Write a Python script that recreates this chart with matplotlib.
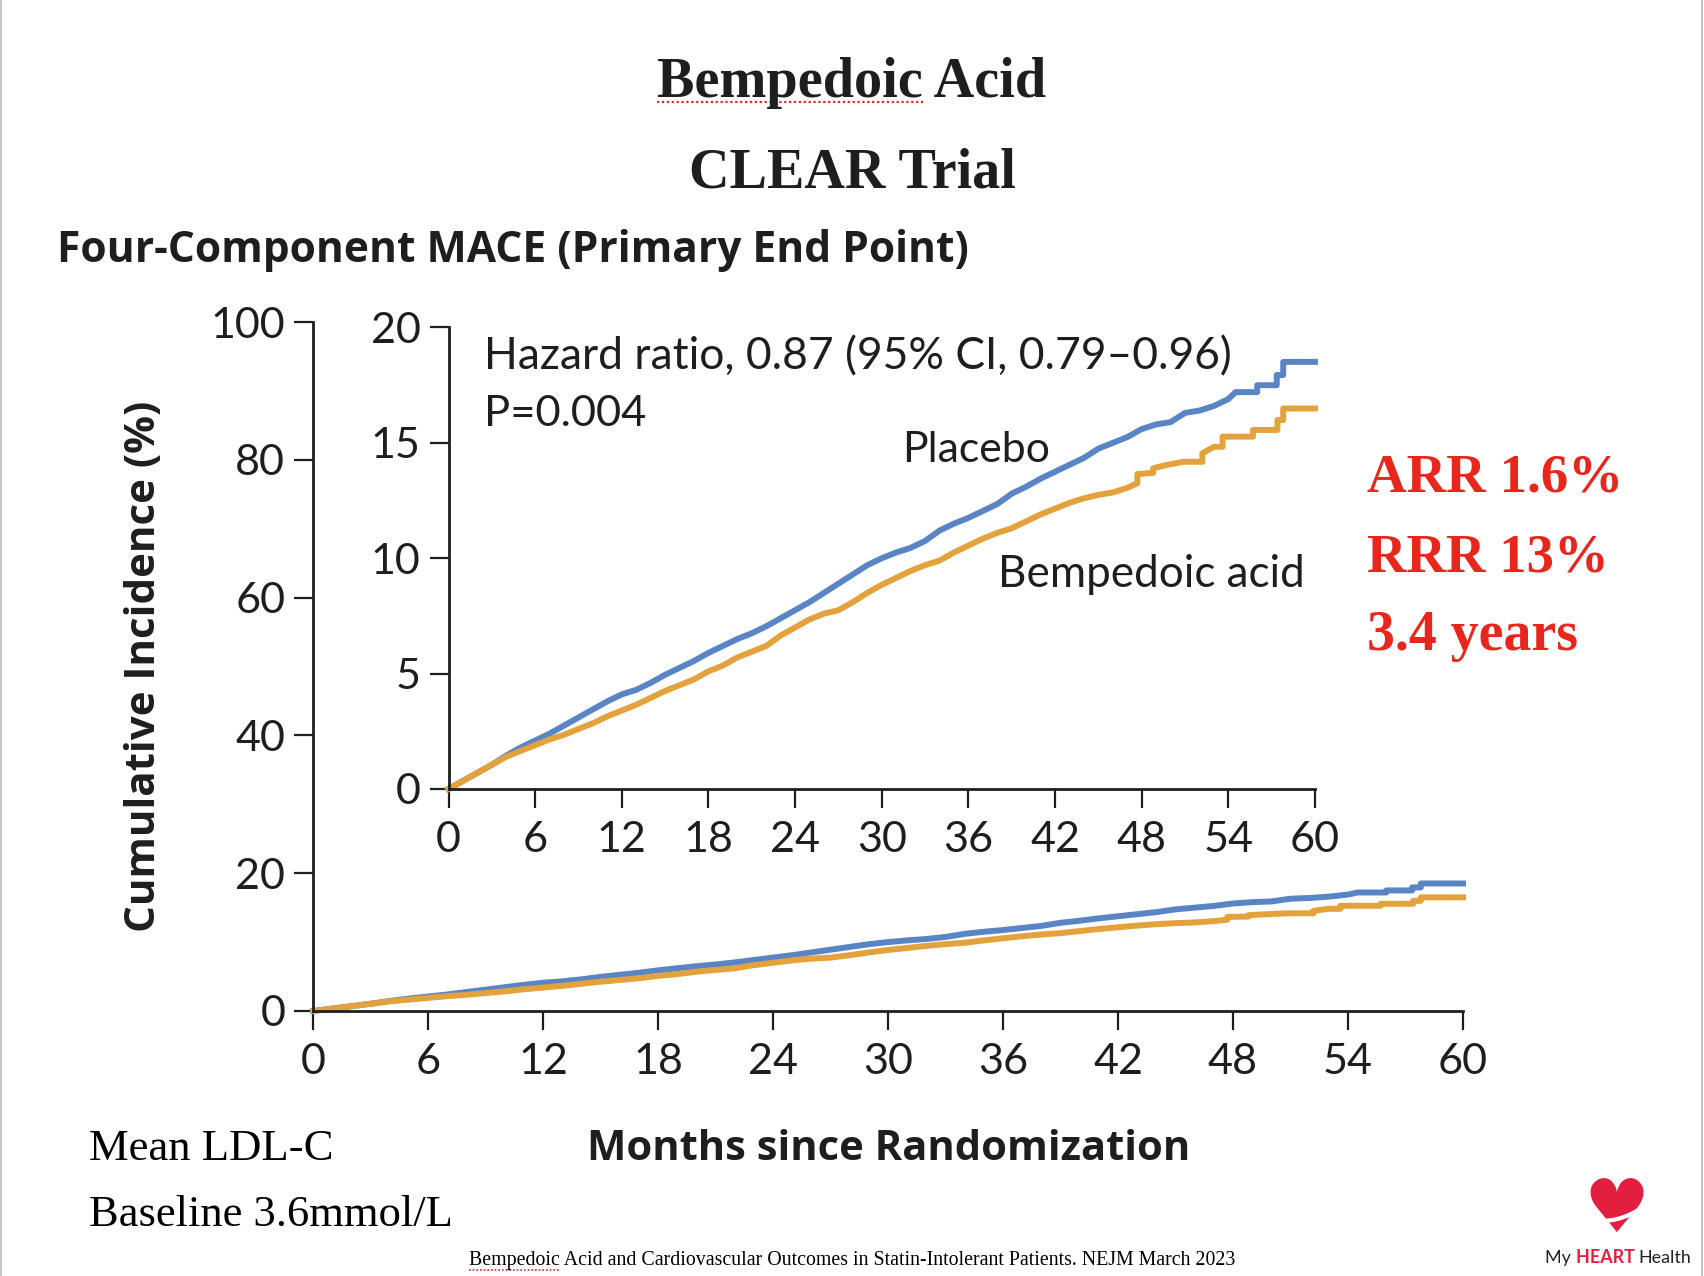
import matplotlib
matplotlib.use("Agg")
import matplotlib.pyplot as plt
from matplotlib.lines import Line2D
from matplotlib.path import Path
from matplotlib.patches import PathPatch

# ---------------- data ----------------
placebo_months = [0, 1, 2, 3, 4, 5, 6, 7, 8, 9, 10, 11, 12, 13, 14, 15, 16, 17, 18, 19,
                  20, 21, 22, 23, 24, 25, 26, 27, 28, 29, 30, 31, 32, 33, 34, 35, 36, 37, 38, 39,
                  40, 41, 42, 43, 44, 45, 46, 47, 48, 49, 50, 51, 52, 53, 54, 54.5, 56, 56,
                  57.35, 57.35, 57.8, 57.8, 60]
placebo_pct = [0, 0.35, 0.7, 1.05, 1.45, 1.8, 2.1, 2.4, 2.75, 3.1, 3.45, 3.8, 4.1, 4.3, 4.6,
               4.95, 5.25, 5.55, 5.9, 6.2, 6.5, 6.75, 7.05, 7.4, 7.75, 8.1, 8.5, 8.9, 9.3, 9.7,
               10.0, 10.25, 10.45, 10.75, 11.2, 11.5, 11.75, 12.05, 12.35, 12.8,
               13.1, 13.45, 13.75, 14.05, 14.35, 14.75, 15.0, 15.25, 15.6, 15.8, 15.9, 16.3,
               16.4, 16.6, 16.9, 17.2, 17.2, 17.5, 17.5, 17.94, 17.94, 18.51, 18.51]

bempedoic_months = [0, 1, 2, 3, 4, 5, 6, 7, 8, 9, 10, 11, 12, 13, 14, 15, 16, 17, 18, 19,
                    20, 21, 22, 23, 24, 25, 26, 27, 28, 29, 30, 31, 32, 33, 34, 35, 36, 37, 38, 39,
                    40, 41, 42, 43, 44, 45, 46, 47, 47.7, 47.7, 48.8, 48.8, 49.7, 50.9, 52.2, 52.2,
                    53.0, 53.6, 53.6, 55.7, 55.7, 57.4, 57.4, 57.8, 57.8, 60]
bempedoic_pct = [0, 0.35, 0.7, 1.05, 1.4, 1.65, 1.9, 2.15, 2.35, 2.6, 2.85, 3.15, 3.4, 3.65, 3.95,
                 4.25, 4.5, 4.75, 5.1, 5.35, 5.7, 5.95, 6.2, 6.65, 7.0, 7.35, 7.6, 7.75, 8.1, 8.5,
                 8.85, 9.15, 9.45, 9.7, 9.9, 10.25, 10.55, 10.85, 11.1, 11.3,
                 11.6, 11.9, 12.15, 12.4, 12.6, 12.75, 12.85, 13.05, 13.25, 13.65, 13.7, 13.9,
                 14.04, 14.18, 14.18, 14.55, 14.83, 14.83, 15.27, 15.27, 15.56, 15.56, 15.99,
                 15.99, 16.49, 16.49]

x_ticks = [0, 6, 12, 18, 24, 30, 36, 42, 48, 54, 60]
outer_y_ticks = [0, 20, 40, 60, 80, 100]
inner_y_ticks = [0, 5, 10, 15, 20]

title_line1 = "Bempedoic Acid"
title_line2 = "CLEAR Trial"
panel_title = "Four-Component MACE (Primary End Point)"
y_label = "Cumulative Incidence (%)"
x_label = "Months since Randomization"
hr_text = "Hazard ratio, 0.87 (95% CI, 0.79\u20130.96)"
p_text = "P=0.004"
placebo_label = "Placebo"
bempedoic_label = "Bempedoic acid"
side_notes = ["ARR 1.6%", "RRR 13%", "3.4 years"]
ldl_notes = ["Mean LDL-C", "Baseline 3.6mmol/L"]
citation = ("Bempedoic Acid and Cardiovascular Outcomes in Statin-Intolerant Patients. "
            "NEJM March 2023")

# ---------------- figure setup ----------------
W, H, DPI = 1704, 1276, 100
BLUE = "#5a85c5"
ORANGE = "#e3a23c"
RED = "#e8261c"
INK = "#1e1e1e"

SERIF = ["Liberation Serif", "DejaVu Serif"]
TICKFONT = ["Lato", "DejaVu Sans"]
HUMAN = ["Lato", "DejaVu Sans"]
BOLDSANS = ["Open Sans", "DejaVu Sans"]

fig = plt.figure(figsize=(W / DPI, H / DPI), dpi=DPI)
fig.patch.set_facecolor("white")
renderer = fig.canvas.get_renderer()


def fx(px):
    return px / W


def fy(py):
    return 1 - py / H


def text_width(s, size, **kw):
    t = fig.text(0, 0, s, fontsize=size, **kw)
    w = t.get_window_extent(renderer).width
    t.remove()
    return w


def fit_size(s, target_w, **kw):
    return 30 * target_w / text_width(s, 30, **kw)


def place(x, y, s, target_w, ha="left", va="baseline", **kw):
    size = fit_size(s, target_w, **kw)
    return fig.text(fx(x), fy(y), s, fontsize=size, ha=ha, va=va, **kw), size


# page borders
fig.add_artist(Line2D([fx(1), fx(1)], [0, 1], color="#c8c8c8", lw=1.5))
fig.add_artist(Line2D([fx(1702), fx(1702)], [0, 1], color="#c8c8c8", lw=1.5))

# titles
t1, s1 = place(657, 97, title_line1, 388, family=SERIF, weight="bold", color=INK)
wb = text_width("Bempedoic", s1, family=SERIF, weight="bold")
fig.add_artist(Line2D([fx(657), fx(657 + wb)], [fy(102), fy(102)], color=RED,
                      lw=1.6, ls=(0, (1, 1.2))))
place(689, 187, title_line2, 327, family=SERIF, weight="bold", color=INK)
place(57, 262, panel_title, 912, family=BOLDSANS, weight="bold", color=INK)

# tick font size
tick_size = fit_size("20", 50, family=TICKFONT)
axis_lw = 2.0


def style_axes(ax, yticks):
    for side in ("top", "right"):
        ax.spines[side].set_visible(False)
    for side in ("left", "bottom"):
        ax.spines[side].set_linewidth(axis_lw)
        ax.spines[side].set_color(INK)
    ax.set_xlim(0, 60)
    ax.set_xticks(x_ticks)
    ax.set_yticks(yticks)
    ax.tick_params(direction="out", length=14, width=1.6, color=INK, pad=6,
                   labelsize=tick_size, labelcolor=INK)
    for lab in ax.get_xticklabels() + ax.get_yticklabels():
        lab.set_family(TICKFONT)
    ax.patch.set_alpha(0)


LW = 4.3

# outer axes
ax = fig.add_axes([fx(313), fy(1011), (1463 - 313) / W, (1011 - 322) / H])
ax.plot(placebo_months, placebo_pct, color=BLUE, lw=LW, clip_on=False)
ax.plot(bempedoic_months, bempedoic_pct, color=ORANGE, lw=LW, clip_on=False)
ax.set_ylim(0, 100)
style_axes(ax, outer_y_ticks)
ax.tick_params(axis="x", pad=9)

# inset axes
ins = fig.add_axes([fx(448.5), fy(789), (1315 - 448.5) / W, (789 - 327.5) / H])
ins.plot(placebo_months, placebo_pct, color=BLUE, lw=LW, clip_on=False)
ins.plot(bempedoic_months, bempedoic_pct, color=ORANGE, lw=LW, clip_on=False)
ins.set_ylim(0, 20)
style_axes(ins, inner_y_ticks)
ins.tick_params(axis="x", pad=9)

# axis labels
ylab_size = fit_size(y_label, 532, family=BOLDSANS, weight="bold")
fig.text(fx(145), fy(666), y_label, rotation=90, ha="center", va="center",
         fontsize=ylab_size, family=BOLDSANS, weight="bold", color=INK)
place(587, 1160, x_label, 603, family=BOLDSANS, weight="bold", color=INK)

# inset annotations
place(484, 369, hr_text, 747, family=HUMAN, color=INK)
place(484, 426, p_text, 162, family=HUMAN, color=INK)
place(902, 462, placebo_label, 148, family=HUMAN, color=INK)
place(998, 587, bempedoic_label, 306, family=HUMAN, color=INK)

# red side notes
place(1367, 492, side_notes[0], 256, family=SERIF, weight="bold", color=RED)
place(1367, 572, side_notes[1], 242, family=SERIF, weight="bold", color=RED)
place(1367, 650, side_notes[2], 211, family=SERIF, weight="bold", color=RED)

# LDL notes
place(89, 1160, ldl_notes[0], 245, family=SERIF, color="black")
place(89, 1226, ldl_notes[1], 365, family=SERIF, color="black")

# citation
ct, cs = place(469, 1265, citation, 767, family=SERIF, color="black")
wc = text_width("Bempedoic", cs, family=SERIF)
fig.add_artist(Line2D([fx(469), fx(469 + wc)], [fy(1270), fy(1270)], color=RED,
                      lw=1.2, ls=(0, (1, 1.2))))

# logo
HEART_RED = "#e21f3e"
heart_size = fit_size("\u2665", 66, family=["DejaVu Sans"])
fig.text(fx(1616), fy(1211), "\u2665", fontsize=heart_size, ha="center", va="center",
         color=HEART_RED, family=["DejaVu Sans"])
swoosh = Path([(fx(1586), fy(1218)), (fx(1614), fy(1228)), (fx(1648), fy(1204))],
              [Path.MOVETO, Path.CURVE3, Path.CURVE3])
fig.add_artist(PathPatch(swoosh, facecolor="none", edgecolor="white", lw=3.0,
                         transform=fig.transFigure, zorder=5))
logo_size = fit_size("My HEART Health", 145, family=HUMAN)
xpos = 1545
for part, col, wt in [("My ", "#222222", "normal"), ("HEART ", HEART_RED, "bold"),
                      ("Health", "#222222", "normal")]:
    fig.text(fx(xpos), fy(1263), part, fontsize=logo_size, color=col, weight=wt,
             family=HUMAN, ha="left", va="baseline")
    xpos += text_width(part.replace(" ", "\u00a0"), logo_size, family=HUMAN, weight=wt)

fig.savefig("out.png", dpi=DPI, facecolor="white")
